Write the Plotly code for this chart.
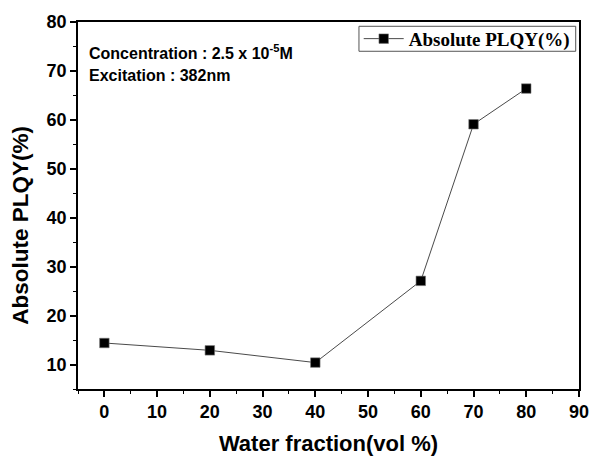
import plotly.graph_objects as go

# Water fraction (vol %) and measured absolute PLQY (%)
water_fraction = [0, 20, 40, 60, 70, 80]
plqy = [14.4, 12.9, 10.4, 27.1, 59.1, 66.4]

x_ticks = [0, 10, 20, 30, 40, 50, 60, 70, 80, 90]
y_ticks = [10, 20, 30, 40, 50, 60, 70, 80]

sans = "Liberation Sans, Arial, sans-serif"
serif = "Liberation Serif, Times New Roman, serif"

fig = go.Figure()
fig.add_trace(go.Scatter(
    x=water_fraction,
    y=plqy,
    mode="lines+markers",
    name="<b>Absolute PLQY(%)</b>",
    line=dict(color="#4a4a4a", width=1),
    marker=dict(symbol="square", size=9.5, color="black",
                line=dict(color="#777777", width=0.6)),
))

axis_common = dict(
    showline=True, linecolor="black", linewidth=1.5, mirror=True,
    showgrid=False, zeroline=False, automargin=False,
    ticks="outside", ticklen=6, tickwidth=1.5, tickcolor="black",
    tickfont=dict(family=sans, size=18, color="black"),
)

fig.update_xaxes(
    range=[-5, 90],
    tickvals=x_ticks,
    ticktext=[f"<b>{v}</b>" for v in x_ticks],
    minor=dict(dtick=5, tick0=0, ticks="outside", ticklen=3,
               tickwidth=1.2, tickcolor="black"),
    title=dict(text="<b>Water fraction(vol %)</b>", standoff=19,
               font=dict(family=sans, size=22, color="black")),
    **axis_common,
)
fig.update_yaxes(
    range=[5, 80],
    tickvals=y_ticks,
    ticktext=[f"<b>{v}</b>" for v in y_ticks],
    minor=dict(dtick=5, tick0=0, ticks="outside", ticklen=3,
               tickwidth=1.2, tickcolor="black"),
    **axis_common,
)

# y-axis title
fig.add_annotation(
    xref="paper", yref="paper", x=-0.115, y=0.446,
    xanchor="center", yanchor="middle", showarrow=False, textangle=-90,
    text="<b>Absolute PLQY(%)</b>",
    font=dict(family=sans, size=22.5, color="black"),
)

fig.add_annotation(
    xref="paper", yref="paper", x=0.018, y=0.917,
    xanchor="left", yanchor="middle", showarrow=False,
    text="<b>Concentration : 2.5 x 10<sup>-5</sup>M</b>",
    font=dict(family=sans, size=16, color="black"),
)
fig.add_annotation(
    xref="paper", yref="paper", x=0.018, y=0.855,
    xanchor="left", yanchor="middle", showarrow=False,
    text="<b>Excitation : 382nm</b>",
    font=dict(family=sans, size=16, color="black"),
)

# legend frame
fig.add_shape(
    type="rect", xref="paper", yref="paper",
    x0=(359 - 77.7) / 501.6, x1=(576 - 77.7) / 501.6,
    y0=(389 - 51) / 367.3, y1=(389 - 26) / 367.3,
    line=dict(color="#555555", width=1), fillcolor="rgba(0,0,0,0)",
    layer="above",
)

fig.update_layout(
    width=593, height=456,
    margin=dict(l=78, r=14, t=22, b=67, autoexpand=False),
    plot_bgcolor="white", paper_bgcolor="white",
    showlegend=True,
    legend=dict(
        x=(575 - 77.7) / 501.6, y=(389 - 38.5) / 367.3,
        xanchor="right", yanchor="middle",
        bgcolor="rgba(0,0,0,0)", borderwidth=0,
        font=dict(family=serif, size=19, color="black"),
        itemwidth=40,
    ),
)

fig.write_html("out.html")
